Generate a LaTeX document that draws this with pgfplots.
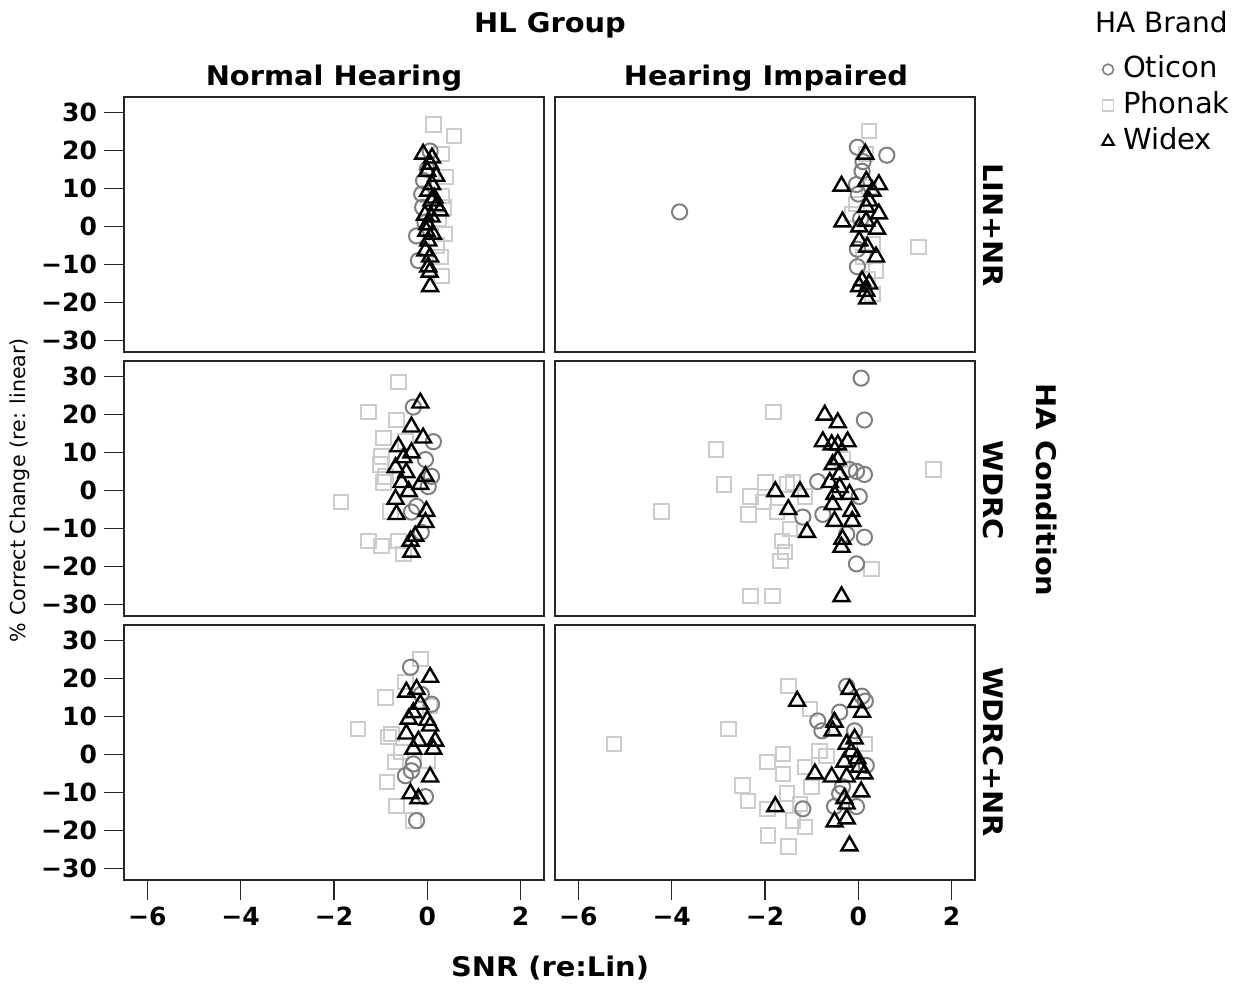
\documentclass[border=0pt]{standalone}
\usepackage{pgfplots}
\pgfplotsset{compat=1.18}
\usepackage{fontspec}
\setmainfont{DejaVu Sans}
\newfontfamily\hdfont{DejaVu Sans}[FakeStretch=1.07]

\definecolor{otic}{HTML}{7F7F7F}
\definecolor{phon}{HTML}{CCCCCC}

\pgfplotsset{
  panel/.style={
    scale only axis, width=210pt, height=127.5pt, anchor=north west,
    xmin=-6.5, xmax=2.5, ymin=-33, ymax=34,
    xtick=\empty, ytick=\empty, xtick pos=bottom, ytick pos=left,
    tick align=outside, major tick length=10pt,
    axis line style={line width=0.7pt, black!85},
    tick style={line width=0.7pt, black!85},
    ticklabel style={font=\fontsize{12.5}{14}\selectfont\bfseries},
  },
  lefty/.style={ytick={-30,-20,-10,0,10,20,30},
    yticklabels={−30,−20,−10,0,10,20,30}},
  bottomx/.style={xtick={-6,-4,-2,0,2},
    xticklabels={−6,−4,−2,0,2}},
  oticon/.style={only marks, mark=o, draw=otic, mark size=3.8pt, line width=1pt},
  phonak/.style={only marks, mark=square, draw=phon, mark size=3.6pt, line width=1pt},
  widex/.style={only marks, mark=triangle, draw=black, mark size=4.6pt, line width=1.2pt},
}

\begin{document}
\begin{tikzpicture}
\path (0,0) rectangle (623pt,-491pt);

% ---- Normal Hearing, LIN+NR
\begin{axis}[panel, lefty, at={(62pt,-48.5pt)}]
\addplot[phonak] coordinates {(0.13,26.8) (0.57,23.7) (0.3,19) (0.4,13) (0.3,8) (0.35,5) (0.38,-2) (0.28,-8) (0.3,-13) (0.25,2) (0.2,-5)};
\addplot[oticon] coordinates {(0.06,19.8) (-0.23,-2.5) (-0.19,-9) (-0.12,8.5) (-0.08,12) (-0.1,5) (0.0,15) (-0.05,1)};
\addplot[widex] coordinates {(-0.09,19) (0.06,16.4) (0.19,13.2) (0.02,9.3) (0.09,6.7) (0.27,4.1) (0.09,2.5)
  (-0.02,-1.2) (0.02,-3.8) (-0.04,-6.4) (0.06,-8) (0.02,-10.6) (0.06,-15.8) (0.1,11) (0.15,7.5) (0.2,5.5)
  (-0.05,3) (0.0,0.5) (0.12,-2) (0.05,-12) (0.0,14.5) (0.1,18)};
\end{axis}

% ---- Hearing Impaired, LIN+NR
\begin{axis}[panel, at={(277.5pt,-48.5pt)},
  legend style={at={(1.285,1.18)}, anchor=north west, draw=none, fill=none,
    font=\fontsize{14.5}{16}\selectfont, row sep=0pt, inner sep=0pt,
    nodes={inner sep=2pt, text height=11pt, text depth=3pt},
    legend cell align=left},
  legend image code/.code={\path (-3pt,0pt) (8pt,0pt);
    \draw[#1] plot coordinates {(3pt,0pt)};}]
\addlegendimage{oticon, mark size=2.7pt, line width=0.8pt}
\addlegendimage{phonak, mark size=2.7pt, line width=0.8pt}
\addlegendimage{widex, mark size=3.3pt, line width=1pt}
\addplot[phonak, forget plot] coordinates {(0.23,25) (1.29,-5.4) (0.17,19) (-0.04,5.9) (-0.13,3.3) (0.3,-4.6) (0.38,-11.6) (0.3,-17.7) (0.23,10.3) (0.1,-8) (0.2,-14)};
\addplot[oticon, forget plot] coordinates {(-3.83,3.8) (0.61,18.7) (-0.02,20.8) (0.08,14.5) (-0.04,11) (0,8.5) (-0.02,-10.6) (0.05,2) (-0.02,-6) (0.1,17)};
\addplot[widex, forget plot] coordinates {(-0.36,10.6) (-0.34,1.2) (0.17,11.9) (0.44,11) (0.3,9.3) (0.23,6.7) (0.17,5.1) (0.44,3.3)
  (0.17,1.4) (0.02,-0.1) (0.4,-0.7) (0.02,-3.8) (0.19,-5.4) (0.38,-8) (0.08,-14.3) (0.23,-15.1) (0.02,-15.8)
  (0.19,-19) (0.17,-17) (0.15,19)};
\legend{Oticon,Phonak,Widex}
\end{axis}

% ---- Normal Hearing, WDRC
\begin{axis}[panel, lefty, at={(62pt,-180.5pt)}]
\addplot[phonak] coordinates {(-0.62,28.5) (-1.26,20.6) (-0.66,18.5) (-0.94,13.8) (-0.98,8.9) (-1.0,6.8) (-0.94,2.1)
  (-1.85,-3.1) (-0.79,-5.5) (-1.26,-13.3) (-0.98,-14.6) (-0.62,-13.3) (-0.51,-16.7) (-0.47,12.8) (-0.9,3.7)};
\addplot[oticon] coordinates {(-0.3,21.9) (0.13,12.8) (-0.04,8.1) (0.09,3.7) (0.02,1) (-0.34,-5.7) (-0.13,-11) (-0.23,-4.2)};
\addplot[widex] coordinates {(-0.15,23) (-0.34,16.7) (-0.09,13.8) (-0.62,11.5) (-0.34,9.9) (-0.51,8.6) (-0.68,6)
  (-0.04,3.7) (-0.45,4.7) (-0.55,2.1) (-0.15,1.6) (-0.4,-0.3) (-0.68,-2.3) (-0.02,-5.5) (-0.66,-6.3)
  (-0.04,-8.4) (-0.26,-12) (-0.36,-13.3) (-0.34,-16.2)};
\end{axis}

% ---- Hearing Impaired, WDRC
\begin{axis}[panel, at={(277.5pt,-180.5pt)}]
\addplot[phonak] coordinates {(-1.82,20.6) (-3.05,10.7) (-2.88,1.6) (-4.22,-5.5) (1.61,5.5) (-2.31,-1.6) (-2.35,-6.3)
  (-1.99,2.1) (-1.53,1.6) (-2.03,-3.1) (-1.74,-5.7) (-1.46,-10.2) (-1.63,-13.3) (-1.57,-16.2) (-1.67,-18.5)
  (-2.31,-27.7) (-1.84,-27.7) (-1.14,-1.6) (0.28,-20.6) (-0.34,8.1) (-1.4,2.1)};
\addplot[oticon] coordinates {(0.06,29.5) (0.13,18.5) (-0.04,5) (0.13,4.2) (-0.87,2.3) (0.02,-1.6) (-1.19,-7)
  (-0.76,-6.3) (-0.25,-11.5) (0.13,-12.3) (-0.04,-19.3) (-0.19,5.5)};
\addplot[widex] coordinates {(-0.72,19.8) (-0.44,17.8) (-0.76,12.8) (-0.57,12) (-0.44,12) (-0.23,12.8) (-0.44,8.1)
  (-0.55,6.8) (-0.4,4.2) (-0.61,2.1) (-0.4,0.8) (-0.51,-1) (-0.19,-1) (-1.78,-0.3) (-1.25,-0.3) (-1.5,-5)
  (-1.1,-11) (-0.55,-3.7) (-0.15,-5.5) (-0.51,-8.1) (-0.13,-8.1) (-0.34,-12.8) (-0.36,-14.9) (-0.36,-27.9)};
\end{axis}

% ---- Normal Hearing, WDRC+NR
\begin{axis}[panel, lefty, bottomx, at={(62pt,-312.5pt)}]
\addplot[phonak] coordinates {(-0.15,25) (-0.9,15) (-1.49,6.7) (-0.47,19) (0.06,12.7) (-0.77,5.4) (-0.83,4.6)
  (-0.57,0.7) (-0.68,-2) (-0.87,-7.2) (-0.66,-13.5) (-0.3,-17.4) (0.02,-1.7)};
\addplot[oticon] coordinates {(-0.36,22.9) (-0.13,15.8) (0.09,13.2) (-0.34,-4.3) (-0.47,-5.6) (-0.04,-11.1) (-0.23,-17.4) (-0.3,-2.5)};
\addplot[widex] coordinates {(0.06,20.3) (-0.45,16.4) (-0.23,17.1) (-0.15,13.2) (-0.4,9.3) (0.06,7.5) (-0.45,5.4)
  (0.17,3.5) (-0.3,1.4) (0.13,1.4) (-0.19,3.5) (0.06,-5.9) (-0.36,-10.3) (-0.19,-11.6) (-0.3,11) (0.0,9)};
\end{axis}

% ---- Hearing Impaired, WDRC+NR
\begin{axis}[panel, bottomx, at={(277.5pt,-312.5pt)}]
\addplot[phonak] coordinates {(-5.23,2.7) (-2.78,6.7) (-1.5,17.9) (-1.04,11.9) (-1.95,-2) (-1.61,0.1) (-1.61,-5.1)
  (-2.48,-8.2) (-2.37,-12.2) (-1.14,-3.3) (-1.0,-8.5) (-1.53,-10.3) (-1.95,-14.3) (-1.4,-17.4) (-1.14,-19)
  (-1.93,-21.3) (-1.5,-24.2) (-0.83,0.9) (-0.68,-0.4) (0.13,2.7) (-1.25,-13)};
\addplot[oticon] coordinates {(-0.25,17.9) (0.08,15.3) (-0.4,11.1) (-0.87,8.8) (-0.78,6.2) (-0.08,6.2) (0.17,-2.9)
  (-0.4,-10.3) (-1.19,-14.3) (-0.51,-13.7) (-0.04,-13.7) (-0.34,-8.5) (0.15,14)};
\addplot[widex] coordinates {(-1.31,14) (-0.19,17.1) (-0.04,13.7) (0.08,11.1) (-0.51,8.5) (-0.55,6.2) (-0.08,4.1)
  (-0.25,2.7) (-0.15,0.7) (-0.02,-1.1) (-0.3,-2) (0.02,-3.3) (0.13,-5.1) (-0.93,-5.1) (-0.57,-5.9)
  (-0.25,-5.9) (0.06,-9.8) (-0.3,-11.6) (-0.25,-13) (-1.78,-13.7) (-0.51,-17.7) (-0.25,-16.9) (-0.19,-24)};
\end{axis}

% ---- titles and labels
\begin{scope}[font=\hdfont\fontsize{13.5}{15}\selectfont\bfseries]
\node at (275pt,-12.5pt) {HL Group};
\node at (167pt,-39pt) {Normal Hearing};
\node at (383pt,-39pt) {Hearing Impaired};
\node[rotate=-90] at (496.5pt,-112.5pt) {LIN+NR};
\node[rotate=-90] at (496.5pt,-245pt) {WDRC};
\node[rotate=-90] at (496.5pt,-376pt) {WDRC+NR};
\node[rotate=-90] at (523.5pt,-245pt) {HA Condition};
\node at (275pt,-484pt) {SNR (re:Lin)};
\end{scope}
\node[rotate=90, font=\fontsize{10.3}{12}\selectfont] at (10pt,-245pt) {\% Correct Change (re: linear)};
\node[anchor=west, font=\fontsize{14}{16}\selectfont] at (544pt,-11pt) {HA Brand};
\end{tikzpicture}
\end{document}
